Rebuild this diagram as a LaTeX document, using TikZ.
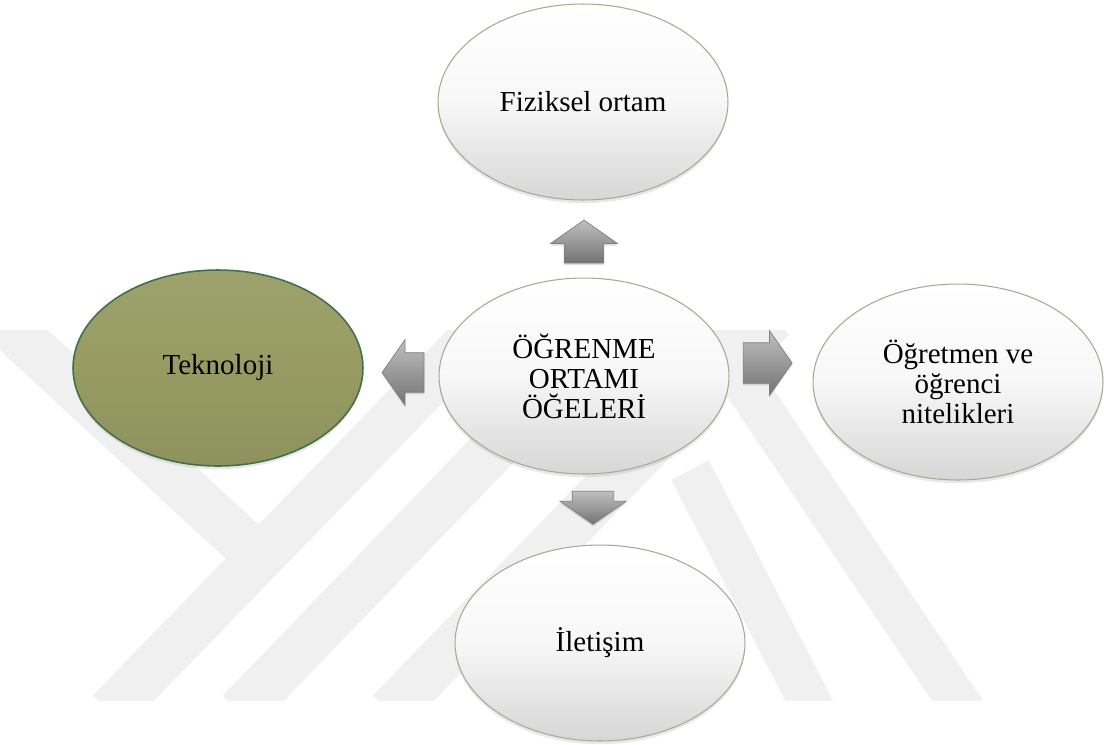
\documentclass[tikz,border=0pt]{standalone}
\usepackage{fontspec}
\setmainfont{Liberation Serif}
\usetikzlibrary{shapes.geometric, shapes.arrows, shadows}

\definecolor{ovalline}{RGB}{168,168,148}
\definecolor{olivefill}{RGB}{151,155,99}
\definecolor{olivedraw}{RGB}{66,112,74}
\definecolor{markgray}{RGB}{240,240,240}

\tikzset{
	oval/.style={ellipse, draw=ovalline, line width=0.6pt, inner sep=0pt,
		minimum width=5.8cm, minimum height=3.92cm, align=center,
		font=\fontsize{16.5}{17}\selectfont,
		top color=white, bottom color=black!16, middle color=black!3,
		drop shadow={shadow xshift=0pt, shadow yshift=-1.8pt, opacity=0.18}},
	olive oval/.style={oval, draw=olivedraw, line width=0.9pt,
		top color=olivefill!94!white, bottom color=olivefill!94!black,
		middle color=olivefill},
	blockarrow/.style={single arrow, draw=black!50, line width=0.4pt,
		inner xsep=0pt, single arrow tip angle=110,
		top color=black!25, bottom color=black!55,
		drop shadow={shadow xshift=0pt, shadow yshift=-1.2pt, opacity=0.25}},
	markstrip/.style={markgray, line width=0.95cm}
}

\begin{document}
\begin{tikzpicture}[x=0.02cm, y=-0.02cm]
		\useasboundingbox (0, 0) rectangle (1104, 744);

		\begin{scope}
			\clip (0, 330) rectangle (1104, 700);
			\draw [markstrip] (0, 318) -- (262, 560);
			\draw [markstrip] (110, 712) -- (492, 318);
			\draw [markstrip] (240, 712) -- (620, 318);
			\draw [markstrip] (390, 712) -- (772, 318);
			\draw [markstrip, line width=0.85cm] (700, 318) -- (965, 712);
			\draw [markstrip, line width=0.85cm] (690, 470) -- (815, 712);
		\end{scope}

		\node [oval] (fiz) at (583, 102) {Fiziksel ortam};
		\node [oval] (mer) at (584, 376) {ÖĞRENME\\ORTAMI\\ÖĞELERİ};
		\node [olive oval] (tek) at (218, 368) {Teknoloji};
		\node [oval] (ogr) at (958, 382) {Öğretmen ve\\öğrenci\\nitelikleri};
		\node [oval] (ilt) at (600, 643) {İletişim};

		\node [blockarrow, rotate=90, minimum height=0.86cm,
		inner ysep=0.39cm, single arrow head extend=0.27cm] (aup)
		at (584, 248.5) {};
		\node [blockarrow, rotate=270, minimum height=0.66cm,
		inner ysep=0.41cm, single arrow head extend=0.24cm] (adown)
		at (593, 500.5) {};
		\node [blockarrow, rotate=180, minimum height=0.84cm,
		inner ysep=0.39cm, single arrow head extend=0.26cm] (aleft)
		at (410, 372.5) {};
		\node [blockarrow, minimum height=0.98cm,
		inner ysep=0.4cm, single arrow head extend=0.24cm] (aright)
		at (760.5, 363) {};
\end{tikzpicture}
\end{document}
